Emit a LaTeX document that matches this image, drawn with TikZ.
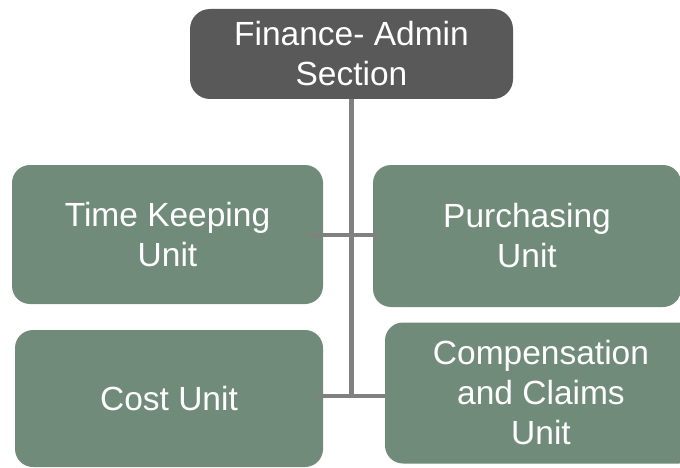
\documentclass[tikz,border=0pt]{standalone}
\usepackage{fontspec}
\setmainfont{Liberation Sans}
\definecolor{headfill}{RGB}{89,89,89}
\definecolor{unitfill}{RGB}{113,139,122}
\definecolor{linkgray}{RGB}{128,128,128}
\begin{document}
\begin{tikzpicture}[x=1pt,y=-1pt,
  box/.style={rectangle, rounded corners=18pt, inner sep=0pt, align=center,
    text=white, font=\fontsize{33.5}{40}\selectfont},
  headbox/.style={box, fill=headfill, rounded corners=20pt},
  unitbox/.style={box, fill=unitfill},
  link/.style={draw=linkgray, line width=4.5pt}]
\useasboundingbox (0,0) rectangle (680,468);
% head of the section
\node[headbox, minimum width=323pt, minimum height=90pt] (head) at (351.5,54) {Finance- Admin\\Section};
% units
\node[unitbox, minimum width=311pt, minimum height=139pt] (tk) at (167.5,234.5) {Time Keeping\\Unit};
\node[unitbox, minimum width=308pt, minimum height=142pt] (pu) at (527,236) {Purchasing\\Unit};
\node[unitbox, minimum width=308pt, minimum height=137pt] (cu) at (169,398.5) {Cost Unit};
\node[unitbox, minimum width=312pt, minimum height=141pt] (cc) at (541,393) {Compensation\\and Claims\\Unit};
% connectors: one trunk and two horizontal branches
\coordinate (yup) at (0,235);
\coordinate (ylow) at (0,396);
\coordinate (jlow) at (head.south |- ylow);
\draw[link] (head.south) -- (jlow);
\draw[link] ([xshift=-13pt]tk.east |- yup) -- ([xshift=6pt]pu.west |- yup);
\draw[link] ([xshift=-7pt]cu.east |- ylow) -- ([xshift=1pt]cc.west |- ylow);
\end{tikzpicture}
\end{document}
